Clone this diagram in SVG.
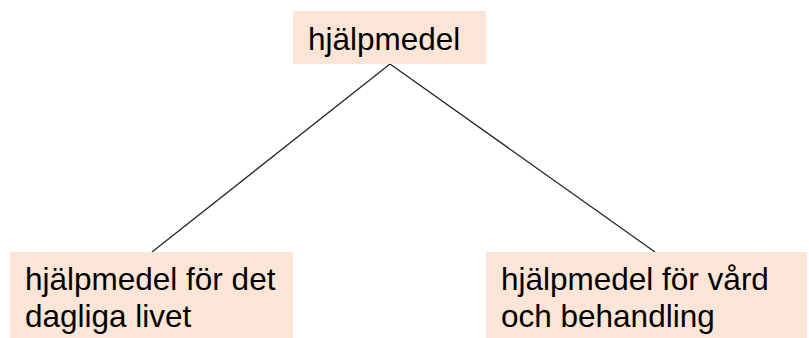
<svg xmlns="http://www.w3.org/2000/svg" width="809" height="338" viewBox="0 0 809 338">
<style>
.box{fill:#FBE5D6;stroke:none}
.lbl{font-family:"Liberation Sans",Arial,sans-serif;font-size:31.5px;fill:#000}
.edge{stroke:#262626;stroke-width:1.3;fill:none}
</style>
<rect width="809" height="338" fill="#fff"/>
<g id="connectors">
<line class="edge" x1="390" y1="64" x2="152" y2="252"/>
<line class="edge" x1="390" y1="64" x2="655" y2="252"/>
</g>
<g id="root">
<rect class="box" x="293" y="11" width="193" height="53"/>
<text class="lbl" x="308" y="50">hjälpmedel</text>
</g>
<g id="daily">
<rect class="box" x="10" y="252" width="283" height="86"/>
<text class="lbl" x="25" y="290">hjälpmedel för det</text>
<text class="lbl" x="25" y="327">dagliga livet</text>
</g>
<g id="care">
<rect class="box" x="486" y="252" width="321" height="86"/>
<text class="lbl" x="501" y="290">hjälpmedel för vård</text>
<text class="lbl" x="501" y="327">och behandling</text>
</g>
</svg>
